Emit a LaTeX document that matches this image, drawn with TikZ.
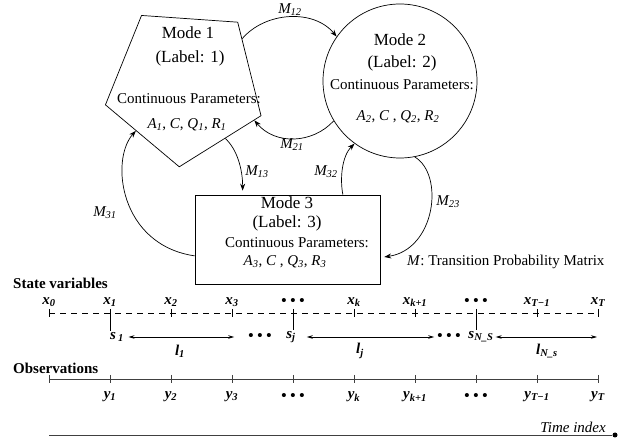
\documentclass[tikz,border=0pt]{standalone}
\usepackage{fontspec}
\setmainfont{Liberation Serif}
\usetikzlibrary{arrows.meta,shapes.geometric}

\newcommand{\bv}[2]{\textbf{\textit{#1\textsubscript{#2}}}}
\newcommand{\iv}[2]{\textit{#1\textsubscript{#2}}}
\newcommand{\tdots}{\textbf{\textbullet\ \textbullet\ \textbullet}}

\begin{document}
\begin{tikzpicture}[
    x=1pt, y=-1pt,
    every node/.style={font=\fontsize{15}{17}\selectfont, inner sep=1pt},
    title/.style={font=\fontsize{17}{19}\selectfont},
    head/.style={font=\fontsize{15}{17}\selectfont\bfseries, anchor=west},
    modebox/.style={draw, line width=0.7pt},
    trans/.style={line width=0.7pt, -{Stealth[length=7pt,width=5pt]}},
    span/.style={line width=0.7pt, {Stealth[length=6pt,width=3.5pt]}-{Stealth[length=6pt,width=3.5pt]}},
    axis/.style={line width=0.8pt, black!75}
  ]
  \useasboundingbox (0,0) rectangle (619,443);

  \node [modebox, regular polygon, regular polygon sides=5, shape border rotate=180,
    rotate=-4, minimum size=164pt] (mode1) at (185,85) {};
  \node [title] (m1name) at (188,33) {Mode 1};
  \node [title] (m1label) at (190,58) {(Label: 1)};
  \node (m1cont) at (189,99) {Continuous Parameters:};
  \node (m1par) at (187,125) {\iv{A}{1}, \textit{C}, \iv{Q}{1}, \iv{R}{1}};

  \node [modebox, circle, minimum size=154pt] (mode2) at (400,81) {};
  \node [title] (m2name) at (400,40) {Mode 2};
  \node [title] (m2label) at (402,63) {(Label: 2)};
  \node (m2cont) at (402,85) {Continuous Parameters:};
  \node (m2par) at (398,117) {\iv{A}{2}, \textit{C} , \iv{Q}{2}, \iv{R}{2}};

  \node [modebox, minimum width=185pt, minimum height=89pt] (mode3) at (287.5,239.5) {};
  \node [title] (m3name) at (287,203) {Mode 3};
  \node [title] (m3label) at (287,223) {(Label: 3)};
  \node (m3cont) at (297,243) {Continuous Parameters:};
  \node (m3par) at (285,262) {\iv{A}{3}, \textit{C} , \iv{Q}{3}, \iv{R}{3}};

  \draw [trans] (mode1.43) .. controls +(23,-27) and +(-23,-28) .. (mode2.145);
  \draw [trans] (mode2.211) .. controls +(-21,23) and +(21,25) .. (mode1.-23.5);
  \draw [trans, shorten >=4pt] (mode1.-49.6) .. controls +(12,11) and +(0,-25) .. (mode3.135);
  \draw [trans] (mode3.190) .. controls +(-75,-11) and +(-26,29) .. (mode1.-133);
  \draw [trans] (mode3.39) .. controls +(-3,-15) and +(-13,13) .. (mode2.234);
  \draw [trans, shorten >=4pt] (mode2.281) .. controls +(30,18) and +(55,-8) .. (mode3.-11);

  \node (m12) at (290,10) {\iv{M}{12}};
  \node (m21) at (292,145) {\iv{M}{21}};
  \node (m13) at (257,172) {\iv{M}{13}};
  \node (m31) at (105,213) {\iv{M}{31}};
  \node (m32) at (326,172) {\iv{M}{32}};
  \node (m23) at (448,202) {\iv{M}{23}};
  \node [anchor=west] (mlab) at (406,262) {\textit{M}: Transition Probability Matrix};

  \node [head] (statelab) at (12,283) {State variables};
  \node [head] (obslab) at (12,368) {Observations};

  \foreach \i in {0,...,9} {
    \coordinate (s\i) at (49+61*\i,313);
    \coordinate (o\i) at (49+61*\i,379);
  }
  \draw [line width=0.7pt, dash pattern=on 6pt off 5pt] (s0) -- (s9);
  \draw [axis] (o0) -- (o9);
  \foreach \i in {0,...,9} {
    \draw [line width=0.7pt] (s\i) ++(0,-4) -- ++(0,8);
    \draw [axis] (o\i) ++(0,-4) -- ++(0,8);
  }

  \foreach \i/\t in {0/\bv{x}{0}, 1/\bv{x}{1}, 2/\bv{x}{2}, 3/\bv{x}{3}, 4/\tdots,
      5/\bv{x}{k}, 6/\bv{x}{k+1}, 7/\tdots, 8/\bv{x}{T−1}, 9/\bv{x}{T}}
    \node (xl\i) at (49+61*\i,302) {\t};
  \foreach \i/\t in {1/\bv{y}{1}, 2/\bv{y}{2}, 3/\bv{y}{3}, 4/\tdots,
      5/\bv{y}{k}, 6/\bv{y}{k+1}, 7/\tdots, 8/\bv{y}{T−1}, 9/\bv{y}{T}}
    \node (yl\i) at (49+61*\i,397) {\t};

  \node (sl1) at (117,337) {\textbf{\textit{s\hspace{2pt}\textsubscript{1}}}};
  \node (dd1) at (260,337) {\tdots};
  \node (slj) at (291,337) {\textbf{\textit{s\textsubscript{j}}}};
  \node (dd2) at (449,337) {\tdots};
  \node (sln) at (481,337) {\textbf{\textit{s\textsubscript{N\_S}}}};
  \coordinate (lend) at (597,337);
  \draw (s1) -- (s1 |- sl1.north);
  \draw (s4) -- (s4 |- slj.north);
  \draw (s7) -- (s7 |- sln.north);
  \draw [span, shorten <=3.5pt, shorten >=13pt] (sl1.east) -- (dd1.west);
  \draw [span, shorten <=10pt, shorten >=2pt] (slj.east) -- (dd2.west);
  \draw [span, shorten <=1pt] (sln.east) -- (lend);
  \node (ll1) at (180,351) {\bv{l}{1}};
  \node (llj) at (360,351) {\bv{l}{j}};
  \node (lln) at (547,351) {\bv{l}{N\_s}};

  \coordinate (tstart) at (49,435);
  \node [circle, fill, inner sep=0pt, minimum size=5pt] (tend) at (615,435) {};
  \draw [axis] (tstart) -- (tend);
  \node [anchor=east] (tlab) at (607,427) {\textit{Time index}};
\end{tikzpicture}
\end{document}
